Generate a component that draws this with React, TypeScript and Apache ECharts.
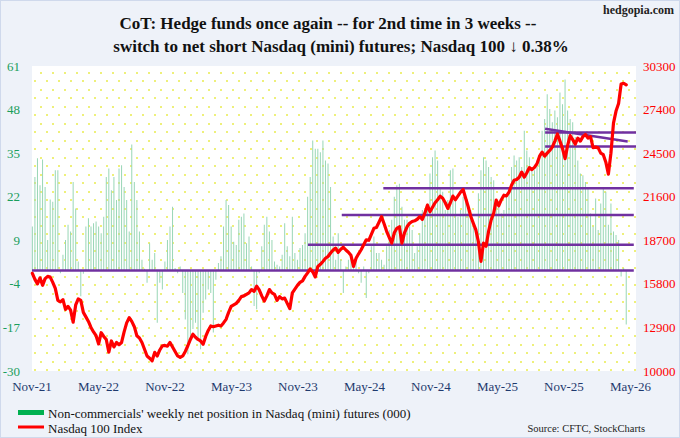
import React, { useEffect, useRef } from "react";
import * as echarts from "echarts";

// ---------- data ----------
const START_DAY_OFFSET = 1; // first CoT week: 2 Nov 2021 (1 day after 1 Nov 2021)
const DAYS_PER_MONTH = 30.4375;

const xTickLabels = [
  "Nov-21", "May-22", "Nov-22", "May-23", "Nov-23",
  "May-24", "Nov-24", "May-25", "Nov-25", "May-26",
];

// Non-commercials' weekly net position in Nasdaq (mini) futures (000)
const netPositions = [
  13.1, 27.9, 33.5, 25.4, 33.1, 24.9, 9.1, 21.2, 20.5, 29.9,
  29.9, -0.8, 4.7, 9.1, 13.6, 11.6, 26.4, 18.5, 2.7, -7.7,
  -1, 13.1, 15.6, 13.1, 14.1, 14.6, 13.1, 11.1, 16.0, 27.9,
  30.4, 23.9, 27.9, 21.0, 30.4, 31.4, 24.9, 21.0, 11.6, 37.6,
  26.4, 21.0, 11.6, 3.2, 0.5, -3.7, 8.1, 3.2, 5.2, -15.6,
  -3.7, -5.7, 2.7, 9.1, 13.1, 19.0, 0.7, -0.8, 1.2, -6.7,
  -14.6, -25, -21.5, -17.5, -15.6, -20.5, -23.5, -12.6, -8.7, -5.7,
  -6.7, -18.5, -2.8, 2.2, 4.2, 13.1, 21.0, 19.5, 13.1, 8.6,
  7.6, 15.1, 16.0, 17.0, 8.1, 10.1, 1.2, -10.6, -11.6, -0.8,
  7.2, 13.6, 16.0, 11.6, 9.1, 2.7, 1.7, 1.2, 4.7, 14.1,
  7.2, 4.2, 16.0, 5.2, 3.2, 6.7, 7.6, 11.1, 22.0, 27.9,
  38.8, 36.3, 36.3, 35.3, 38.8, 32.8, 31.9, 24.9, 10.1, 3.2,
  11.1, 3.2, -6.7, 1.2, 3.2, 3.7, 2.7, 4.2, -0.8, -3.7,
  1.2, -8.2, -0.8, 7.2, 10.1, 5.2, 5.2, 3.2, 1.7, 7.2,
  12.1, 15.1, 22.0, 25.4, 25.9, 19.0, 15.1, 15.1, 13.1, 12.1,
  5.2, 7.2, 11.1, 18.0, 17.0, 20.0, 28.9, 33.8, 35.8, 32.8,
  24.9, 23.5, 18.0, 21.0, 29.9, 30.4, 21.0, 16.0, 18.0, 22.0,
  22.0, 19.0, 18.0, 13.1, 11.1, 23.0, 29.9, 33.8, 32.8, 30.9,
  27.9, 26.9, 21.0, 20.5, 17.0, 18.0, 22.0, 24.9, 30.9, 34.3,
  32.8, 33.8, 30.9, 41.7, 35.8, 33.8, 29.9, 29.9, 32.8, 34.8,
  41.7, 45.2, 52.6, 48.2, 44.2, 47.7, 45.7, 53.1, 49.6, 57.0,
  47.7, 45.2, 44.2, 39.8, 32.8, 28.9, 28.4, 26.4, 24.9, 17.0,
  13.1, 21.5, 12.1, 20.0, 24.4, 23.5, 13.6, 20.0, 11.6, 10.6,
  9.1, -1.8, 0.7, -16.1,
];

// Nasdaq 100 Index, weekly
const nasdaq100 = [
  16500, 16100, 15800, 16200, 15700, 16150, 16300, 16250, 15900, 15500,
  14700, 14600, 14750, 14100, 14300, 14050, 13250, 14400, 14800, 14700,
  13900, 13600, 13300, 12900, 12600, 12350, 11800, 12550, 12300, 12100,
  11250, 12000, 11600, 11900, 11750, 11900, 12600, 13200, 13550, 13300,
  12950, 12350, 12200, 11900, 11450, 11000, 10850, 10680, 11240, 11000,
  11400, 11680, 11700, 11650, 11900, 11600, 11300, 11000, 10900, 11000,
  11300, 11680, 12100, 12450, 12250, 12100, 12000, 11780, 12300, 12700,
  13000, 12950, 13000, 13050, 13000, 13200, 13440, 13900, 14300, 14400,
  14500, 14700, 14950, 15000, 15100, 15200, 15420, 15300, 15650, 15400,
  15000, 14650, 15000, 15420, 15200, 15100, 14700, 14950, 14800, 14850,
  14500, 14150, 15200, 15450, 15700, 15900, 16000, 16300, 16530, 16790,
  16600, 16260, 16960, 17100, 17290, 17500, 17620, 17850, 18050, 18180,
  17900, 18100, 18240, 18050, 17900, 17700, 16960, 17500, 17800, 18070,
  18400, 18730, 18700, 19100, 19500, 19550, 19900, 20270, 19800, 19300,
  18900, 18510, 19200, 19500, 19600, 18510, 19200, 19600, 19830, 19950,
  20000, 20100, 20270, 20100, 20500, 21040, 20600, 20900, 21200, 21400,
  21640, 21500, 21200, 20820, 21200, 21640, 21400, 21650, 21900, 22080,
  21500, 20930, 20300, 19830, 19390, 18600, 17300, 18510, 18300, 19300,
  20050, 20500, 21370, 21000, 21400, 21700, 21650, 21900, 22360, 22700,
  22750, 22900, 23240, 22900, 23200, 23540, 23400, 23550, 23800, 24300,
  24570, 24300, 24500, 24680, 24900, 25300, 25780, 25300, 24800, 24130,
  25000, 25670, 25400, 25100, 25500, 25300, 25600, 25740, 25500, 25600,
  24860, 24900, 24850, 24500, 24400, 23900, 23100, 24500, 26500, 27300,
  27800, 29100, 29150, 29040,
];

// Purple support / resistance lines: [startMonth, startLevel, endMonth, endLevel]
const levelLines = [
  [0, 16690, 54.3, 16690],
  [24.9, 18400, 54.3, 18400],
  [27.95, 20380, 54.3, 20380],
  [31.7, 22170, 54.3, 22170],
  [46.3, 24940, 54.5, 24940],
  [46.3, 25870, 54.5, 25870],
  [46.3, 26130, 53.75, 25275],
];

const leftAxis = { min: -30, max: 61, interval: 13 };
const rightAxis = { min: 10000, max: 30300, interval: 2900 };
const xAxisRange = { min: 0, max: 54.5, interval: 6 };

const weekToMonth = (i: number) => (i * 7 + START_DAY_OFFSET) / DAYS_PER_MONTH;

const SERIF = "'Liberation Serif', 'Times New Roman', Times, serif";

export default function App() {
  const ref = useRef<HTMLDivElement>(null);

  useEffect(() => {
    if (!ref.current) return;
    const chart = echarts.init(ref.current, undefined, { renderer: "svg" });

    const tile = document.createElement("canvas");
    tile.width = 12;
    tile.height = 17;
    const ctx = tile.getContext("2d");
    if (ctx) {
      ctx.fillStyle = "#ffffff";
      ctx.fillRect(0, 0, 12, 17);
      ctx.fillStyle = "#eef07a";
      ctx.fillRect(3, 3, 2, 2);
      ctx.fillRect(9, 11, 2, 2);
    }

    const barData = netPositions.map((v, i) => [weekToMonth(i), v]);
    const lineData = nasdaq100.map((v, i) => [weekToMonth(i), v]);

    const option: any = {
      animation: false,
      backgroundColor: "transparent",
      grid: {
        left: 31,
        right: 43,
        top: 65,
        bottom: 66,
        show: true,
        borderWidth: 0,
        backgroundColor: { image: tile, repeat: "repeat", imageWidth: 12, imageHeight: 17 },
        containLabel: false,
        outerBoundsMode: "none",
      },
      xAxis: {
        type: "value",
        min: xAxisRange.min,
        max: xAxisRange.max,
        interval: xAxisRange.interval,
        axisLine: { show: false },
        axisTick: { show: false },
        splitLine: { show: false },
        axisLabel: {
          margin: 9,
          color: "#1f3a6e",
          fontFamily: SERIF,
          fontSize: 13,
          showMaxLabel: false,
          formatter: (v: number) => {
            const k = v / xAxisRange.interval;
            return Math.abs(k - Math.round(k)) < 1e-6 ? xTickLabels[Math.round(k)] ?? "" : "";
          },
        },
      },
      yAxis: [
        {
          type: "value",
          min: leftAxis.min,
          max: leftAxis.max,
          interval: leftAxis.interval,
          axisLine: { show: false },
          axisTick: { show: false },
          splitLine: { show: false },
          axisLabel: {
            color: "#1a9e5c",
            fontFamily: SERIF,
            fontSize: 13,
            margin: 12,
            formatter: (v: number) => String(v),
          },
        },
        {
          type: "value",
          position: "right",
          min: rightAxis.min,
          max: rightAxis.max,
          interval: rightAxis.interval,
          axisLine: { show: false },
          axisTick: { show: false },
          splitLine: { show: false },
          axisLabel: {
            color: "#ff0000",
            fontFamily: SERIF,
            fontSize: 13,
            margin: 7,
            formatter: (v: number) => String(Math.round(v)),
          },
        },
      ],
      series: [
        {
          name: "Non-commercials' weekly net position in Nasdaq (mini) futures (000)",
          type: "bar",
          xAxisIndex: 0,
          yAxisIndex: 0,
          data: barData,
          barWidth: 1,
          itemStyle: { color: "#98d6b6" },
          z: 2,
          silent: true,
        },
        {
          name: "levels",
          type: "custom",
          xAxisIndex: 0,
          yAxisIndex: 1,
          data: levelLines,
          encode: { x: [0, 2], y: [1, 3] },
          renderItem: (_params: any, api: any) => {
            const p1 = api.coord([api.value(0), api.value(1)]);
            const p2 = api.coord([api.value(2), api.value(3)]);
            return {
              type: "line",
              shape: { x1: p1[0], y1: p1[1], x2: p2[0], y2: p2[1] },
              style: { stroke: "#7030a0", lineWidth: 2.5 },
            };
          },
          z: 3,
          silent: true,
        },
        {
          name: "Nasdaq 100 Index",
          type: "line",
          xAxisIndex: 0,
          yAxisIndex: 1,
          data: lineData,
          symbol: "none",
          lineStyle: { color: "#ff0000", width: 3.2, join: "round", cap: "round" },
          z: 4,
          silent: true,
        },
      ],
      graphic: [
        {
          type: "text",
          right: 5,
          top: 3,
          style: { text: "hedgopia.com", font: `bold 12px ${SERIF}`, fill: "#222" },
        },
        {
          type: "text",
          x: 327,
          y: 22,
          style: {
            text: "CoT: Hedge funds once again -- for 2nd time in 3 weeks --",
            font: `bold 17px ${SERIF}`,
            fill: "#111",
            textAlign: "center",
            textVerticalAlign: "middle",
          },
        },
        {
          type: "text",
          x: 340,
          y: 45,
          style: {
            text: "switch to net short Nasdaq (mini) futures; Nasdaq 100 \u2193 0.38%",
            font: `bold 17px ${SERIF}`,
            fill: "#111",
            textAlign: "center",
            textVerticalAlign: "middle",
          },
        },
        {
          type: "rect",
          shape: { x: 17, y: 409, width: 26, height: 5 },
          style: { fill: "#00b050" },
        },
        {
          type: "line",
          shape: { x1: 17, y1: 426, x2: 43, y2: 426 },
          style: { stroke: "#ff0000", lineWidth: 3 },
        },
        {
          type: "text",
          x: 47,
          y: 412,
          style: {
            text: "Non-commercials' weekly net position in Nasdaq (mini) futures (000)",
            font: `13px ${SERIF}`,
            fill: "#111",
            textVerticalAlign: "middle",
          },
        },
        {
          type: "text",
          x: 47,
          y: 427,
          style: {
            text: "Nasdaq 100 Index",
            font: `13px ${SERIF}`,
            fill: "#111",
            textVerticalAlign: "middle",
          },
        },
        {
          type: "text",
          x: 644,
          y: 427,
          style: {
            text: "Source: CFTC, StockCharts",
            font: `10.5px ${SERIF}`,
            fill: "#222",
            textAlign: "right",
            textVerticalAlign: "middle",
          },
        },
      ],
    };

    chart.setOption(option);
    return () => chart.dispose();
  }, []);

  return (
    <div
      style={{
        position: "fixed",
        left: 0,
        top: 0,
        width: 680,
        height: 438,
        boxSizing: "border-box",
        border: "1px solid #cfd9ec",
        background: "#eef2f9",
      }}
    >
      <div ref={ref} style={{ width: "100%", height: "100%" }} />
    </div>
  );
}
